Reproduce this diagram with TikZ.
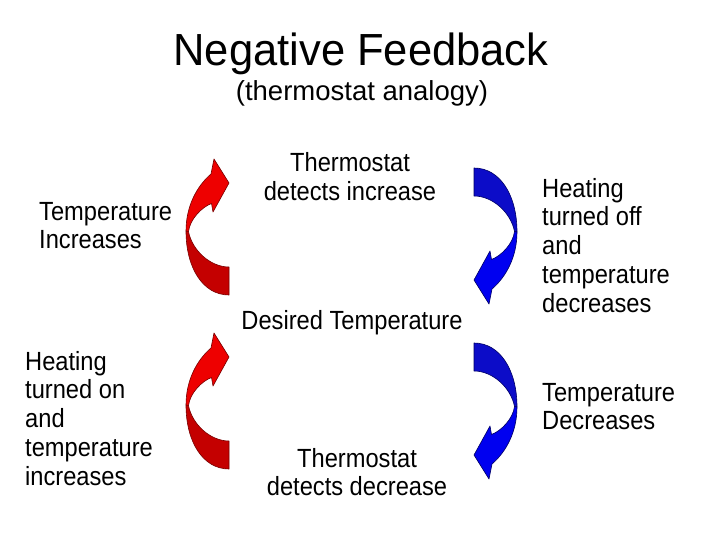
\documentclass[tikz,border=0pt]{standalone}
\usepackage{fontspec}
\newfontfamily\bodyfont{Liberation Sans}[FakeStretch=0.9]
\newfontfamily\titlefont{Liberation Sans}[FakeStretch=0.967]
\newfontfamily\subfont{Liberation Sans}
\definecolor{redhi}{RGB}{238,0,0}
\definecolor{redlo}{RGB}{196,0,0}
\definecolor{redline}{RGB}{120,0,0}
\definecolor{bluehi}{RGB}{0,0,240}
\definecolor{bluelo}{RGB}{12,12,200}
\definecolor{blueline}{RGB}{0,0,100}
\tikzset{
  body/.style={inner sep=0pt, font={\bodyfont\fontsize{26.3}{28.8}\selectfont}},
  lefttext/.style={body, anchor=base west, align=left},
  centertext/.style={body, anchor=base, align=center},
}
% curved arrow drawn in pixel coordinates of the top-left red arrow
\newcommand\curvedarrow[3]{%
  % #1 = back (tail) fill, #2 = front (head) fill, #3 = outline
  \draw[line width=0.6pt, draw=#3, fill=#1, line join=round]
    (186,231) .. controls (186,268) and (203,295) .. (229,295)
    -- (229,267) .. controls (210,267) and (192,250) .. (188.5,231.5) -- cycle;
  \draw[line width=0.6pt, draw=#3, fill=#2, line join=round]
    (186,231) .. controls (186,206) and (197,186) .. (211,174)
    -- (214,159) -- (229,183) -- (213,212) -- (211.5,203.5)
    .. controls (202,207) and (190,219) .. (188.5,231.5) -- cycle;
}
\begin{document}
\begin{tikzpicture}[x=1pt,y=-1pt]
\useasboundingbox (0,0) rectangle (720,540);
\fill[white] (0,0) rectangle (720,540);

% arrows
\begin{scope}\curvedarrow{redlo}{redhi}{redline}\end{scope}
\begin{scope}[shift={(0,174)}]\curvedarrow{redlo}{redhi}{redline}\end{scope}
\begin{scope}[rotate around={180:(351.5,231.5)}]\curvedarrow{bluelo}{bluehi}{blueline}\end{scope}
\begin{scope}[shift={(0,175)}]
  \begin{scope}[rotate around={180:(351.5,231.5)}]\curvedarrow{bluelo}{bluehi}{blueline}\end{scope}
\end{scope}

% texts (base anchor = baseline of the last line)
\node[inner sep=0pt, anchor=base, font={\titlefont\fontsize{45}{50}\selectfont}] (title) at (361,66) {Negative Feedback};
\node[inner sep=0pt, anchor=base, font={\subfont\fontsize{27.5}{30}\selectfont}] (subtitle) at (362,101) {(thermostat analogy)};

\node[lefttext] (tl) at (39,248.8) {Temperature\\Increases};
\node[centertext] (tc) at (350,200.8) {Thermostat\\detects increase};
\node[lefttext] (tr) at (542,312.2) {Heating\\turned off\\and\\temperature\\decreases};
\node[centertext] (mid) at (352,329) {Desired Temperature};
\node[lefttext] (bl) at (25,485.2) {Heating\\turned on\\and\\temperature\\increases};
\node[lefttext] (br) at (542,429.8) {Temperature\\Decreases};
\node[centertext] (bc) at (357,495.8) {Thermostat\\detects decrease};
\end{tikzpicture}
\end{document}
